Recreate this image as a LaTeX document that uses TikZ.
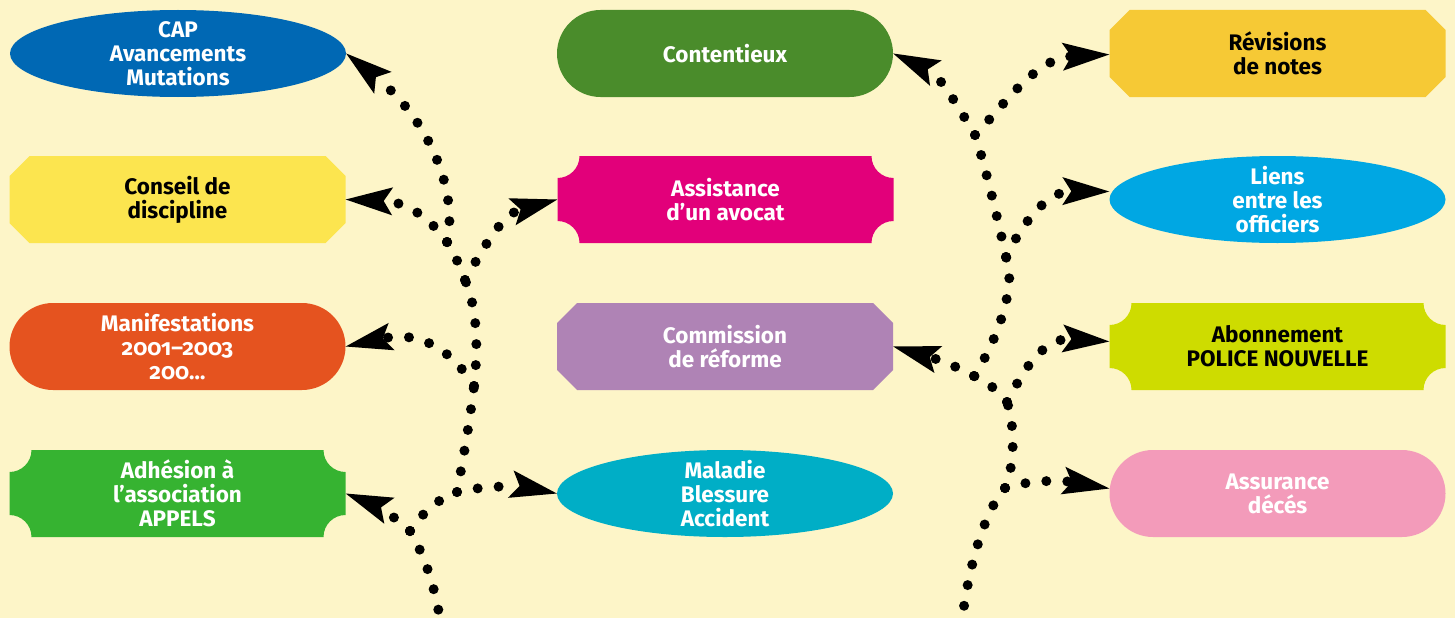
\documentclass[tikz,border=0pt]{standalone}
\usepackage{fontspec}
\setmainfont{Fira Sans}
\newfontfamily\oldnumfont[Numbers=OldStyle]{Fira Sans}
\usetikzlibrary{arrows.meta}

\definecolor{paper}{HTML}{FDF5C8}
\definecolor{capblue}{HTML}{0068B4}
\definecolor{contgreen}{HTML}{4A8C2B}
\definecolor{revyellow}{HTML}{F6C935}
\definecolor{consyellow}{HTML}{FCE54F}
\definecolor{assmagenta}{HTML}{E2007A}
\definecolor{liencyan}{HTML}{00A7E3}
\definecolor{maniforange}{HTML}{E5531F}
\definecolor{commpurple}{HTML}{AF83B5}
\definecolor{abolime}{HTML}{CEDC00}
\definecolor{adhgreen}{HTML}{36B331}
\definecolor{maladteal}{HTML}{00AEC6}
\definecolor{assurpink}{HTML}{F39BBA}

\newcommand{\boxfont}{\bfseries\fontsize{22.5}{24}\selectfont}
\newcommand{\oldnum}{\oldnumfont\bfseries}

\tikzset{
	box/.style={rectangle, minimum width=336pt, minimum height=87pt, inner sep=0pt,
		align=center, font=\boxfont},
	ellbox/.style={box, path picture={\fill[#1] (path picture bounding box.center)
		ellipse [x radius=168pt, y radius=43.5pt];}},
	pillbox/.style={box, path picture={\fill[#1, rounded corners=43.5pt]
		(path picture bounding box.south west) rectangle (path picture bounding box.north east);}},
	octbox/.style={box, path picture={\fill[#1]
		([xshift=20pt]path picture bounding box.north west) --
		([xshift=-20pt]path picture bounding box.north east) --
		([yshift=-20pt]path picture bounding box.north east) --
		([yshift=20pt]path picture bounding box.south east) --
		([xshift=-20pt]path picture bounding box.south east) --
		([xshift=20pt]path picture bounding box.south west) --
		([yshift=20pt]path picture bounding box.south west) --
		([yshift=-20pt]path picture bounding box.north west) -- cycle;}},
	notchbox/.style={box, path picture={\fill[#1]
		([xshift=22pt]path picture bounding box.north west) --
		([xshift=-22pt]path picture bounding box.north east)
		arc[start angle=180, end angle=270, radius=22pt] --
		([yshift=22pt]path picture bounding box.south east)
		arc[start angle=90, end angle=180, radius=22pt] --
		([xshift=22pt]path picture bounding box.south west)
		arc[start angle=0, end angle=90, radius=22pt] --
		([yshift=-22pt]path picture bounding box.north west)
		arc[start angle=-90, end angle=0, radius=22pt] -- cycle;}},
	trunk/.style={line width=10pt, line cap=round, dash pattern=on 0pt off 21pt},
	branch/.style={trunk, -{Stealth[length=47pt, width=28pt, inset=9pt, line width=0pt]}}
}

\begin{document}
\begin{tikzpicture}[x=1pt, y=-1pt]
	\useasboundingbox (0,0) rectangle (1455,618);
	\fill[paper] (0,0) rectangle (1455,618);

	% Draw boxes
	\node[ellbox=capblue, text=white] (cap) at (178,53.5) {CAP\\Avancements\\Mutations};
	\node[pillbox=contgreen, text=white] (contentieux) at (725,53.5) {Contentieux};
	\node[octbox=revyellow] (revisions) at (1277.5,53.5) {Révisions\\de notes};
	\node[octbox=consyellow] (conseil) at (177.5,199.5) {Conseil de\\discipline};
	\node[notchbox=assmagenta, text=white] (assistance) at (725.5,199.5) {Assistance\\d’un avocat};
	\node[ellbox=liencyan, text=white] (liens) at (1277.5,199.5) {Liens\\entre les\\officiers};
	\node[pillbox=maniforange, text=white] (manif) at (177.5,346.5)
		{Manifestations\\{\oldnum 2001–2003}\\{\oldnum 200…}};
	\node[octbox=commpurple, text=white] (commission) at (725,346.5) {Commission\\de réforme};
	\node[notchbox=abolime] (abonnement) at (1277.5,346.5) {Abonnement\\POLICE NOUVELLE};
	\node[notchbox=adhgreen, text=white] (adhesion) at (177.5,493.5)
		{Adhésion à\\l’association\\APPELS};
	\node[ellbox=maladteal, text=white] (maladie) at (725,493.5) {Maladie\\Blessure\\Accident};
	\node[pillbox=assurpink, text=white] (assurance) at (1277.5,493.5) {Assurance\\décés};

	% Forks of the left tree
	\coordinate (lroot) at (443,640);
	\coordinate (la) at (410,531);
	\coordinate (lb) at (457,492);
	\coordinate (lc) at (474,386);
	\coordinate (ld) at (465,280);
	\coordinate (le) at (447,242);

	% Forks of the right tree
	\coordinate (rroot) at (960,640);
	\coordinate (ra) at (1005,488);
	\coordinate (rb) at (1007,402);
	\coordinate (rc) at (974,376);
	\coordinate (rd) at (1006,257);
	\coordinate (re) at (975,135);

	% Draw left tree
	\draw[trunk] (la) .. controls (420,548) and (436,580) .. (lroot);
	\draw[branch] (la) .. controls (398,520) and (380,507) .. (adhesion.east);
	\draw[trunk] (la) .. controls (420,515) and (440,497) .. (lb);
	\draw[branch] (lb) .. controls (480,486) and (520,486) .. (maladie.west);
	\draw[trunk] (lb) .. controls (463,460) and (470,420) .. (lc);
	\draw[branch] (lc) .. controls (453,352) and (422,330) .. (manif.east);
	\draw[trunk] (lc) .. controls (478,350) and (478,310) .. (ld);
	\draw[branch] (ld) .. controls (480,255) and (500,215) .. (assistance.west);
	\draw[trunk] (ld) .. controls (460,265) and (453,252) .. (le);
	\draw[branch] (le) .. controls (433,222) and (410,202) .. (conseil.east);
	\draw[branch] (le) .. controls (458,195) and (432,122) .. (cap.east);

	% Draw right tree
	\draw[trunk] (ra) .. controls (985,510) and (966,570) .. (rroot);
	\draw[branch] (ra) .. controls (1030,480) and (1060,480) .. ([yshift=5pt]assurance.west);
	\draw[trunk] (ra) .. controls (1015,465) and (1015,425) .. (rb);
	\draw[branch] (rb) .. controls (1020,378) and (1040,337) .. ([yshift=5pt]abonnement.west);
	\draw[trunk] (rb) .. controls (995,388) and (985,380) .. (rc);
	\draw[branch] (rc) .. controls (960,368) and (940,360) .. (commission.east);
	\draw[trunk] (rc) .. controls (995,345) and (1018,285) .. (rd);
	\draw[branch] (rd) .. controls (1020,228) and (1045,191) .. ([yshift=8pt]liens.west);
	\draw[trunk] (rd) .. controls (998,220) and (985,165) .. (re);
	\draw[branch] (re) .. controls (1000,110) and (1035,58) .. ([yshift=-1pt]revisions.west);
	\draw[branch] (re) .. controls (960,110) and (940,75) .. (contentieux.east);
\end{tikzpicture}
\end{document}
